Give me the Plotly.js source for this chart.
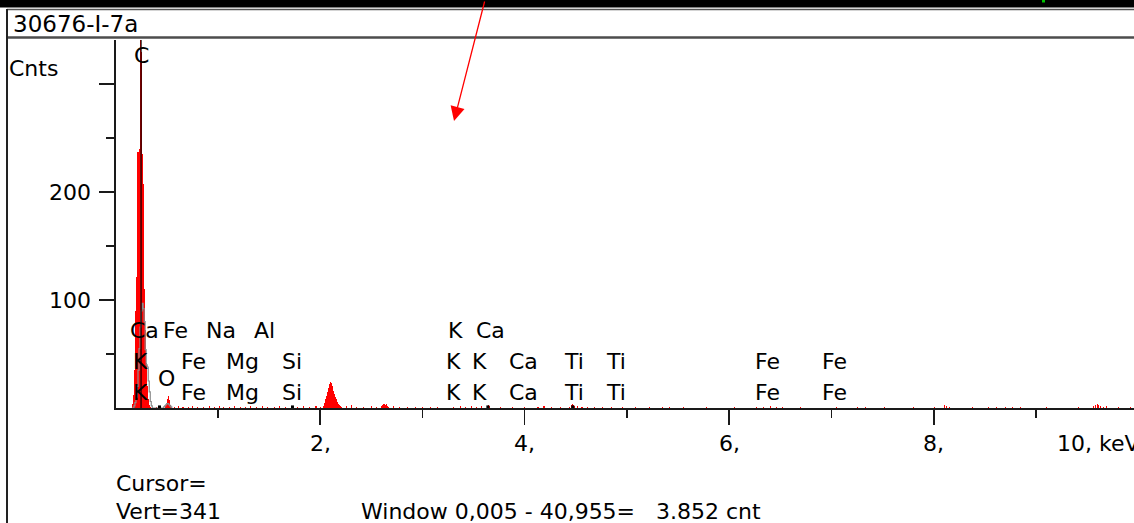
<!DOCTYPE html>
<html><head><meta charset="utf-8">
<script src="https://cdn.plot.ly/plotly-3.0.1.min.js"></script>
<style>html,body{margin:0;padding:0;background:#fff;overflow:hidden}#chart{width:1134px;height:523px}</style>
</head><body><div id="chart"></div>
<script>
// ---- data ----
const sampleName = "30676-I-7a";
const yAxisName = "Cnts";
// red spectrum (10 eV channels, only non-empty channels), energy in keV
const spectrumEnergy = [
  0.17,0.18,0.19,0.20,0.21,0.22,0.23,0.24,0.25,0.26,0.27,0.28,0.29,0.30,0.31,0.32,0.33,0.34,
  0.40,0.44,0.49,0.50,0.51,0.52,0.53,0.54,0.55,
  0.58,0.62,0.66,0.71,0.75,0.80,0.86,0.92,0.97,1.02,1.06,1.11,1.16,1.22,1.27,1.32,1.38,1.44,1.49,1.55,1.60,1.66,1.78,1.84,1.90,1.96,2.00,
  2.03,2.04,2.05,2.06,2.07,2.08,2.09,2.10,2.11,2.12,2.13,2.14,2.15,2.16,2.17,2.18,2.19,2.20,2.21,
  2.26,2.31,2.36,2.42,2.50,2.55,2.60,2.61,2.62,2.63,2.64,2.65,2.66,2.67,2.72,2.78,2.85,2.93,3.00,3.08,3.15,
  3.30,3.37,3.42,3.48,3.53,3.58,3.65,3.66,3.76,3.88,4.00,4.13,4.18,4.19,4.26,4.35,4.44,4.46,4.47,4.48,4.49,4.52,4.56,4.61,4.68,4.76,4.85,4.96,
  5.08,5.22,5.35,5.42,5.55,5.78,6.05,6.27,6.33,6.40,6.46,6.52,6.70,7.05,7.25,7.33,7.52,7.80,
  8.01,8.10,8.12,8.15,8.38,8.53,8.61,8.70,8.77,8.85,9.10,9.41,9.56,9.58,9.60,9.61,9.63,9.66,9.69,9.80,9.92
];
const spectrumCounts = [
  4,12,35,90,121,237,240,341,330,235,208,110,72,42,20,8,3,1,
  1,1,2,4,8,11,7,3,1,
  1,2,1,1,2,1,1,2,1,2,1,1,2,1,1,2,1,2,1,1,2,1,1,2,1,2,1,
  2,5,8,11,15,19,22,24,23,20,16,13,10,8,6,4,3,2,1,
  2,3,1,1,2,1,2,3,4,4,3,4,2,1,2,1,1,1,1,1,1,
  1,2,1,2,1,2,3,2,1,1,1,1,2,2,1,1,1,3,4,3,2,2,1,1,1,1,1,1,
  1,1,1,1,1,1,1,1,1,2,1,1,1,1,1,1,1,1,
  1,3,2,1,1,1,1,1,1,1,1,1,2,3,4,3,2,1,2,1,1
];
// grey comparison spectrum (outline)
const refEnergy = [0.16,0.18,0.19,0.20,0.21,0.22,0.23,0.24,0.25,0.26,0.27,0.28,0.29,0.30,0.31,0.32,0.33,0.34,0.35,0.36,
  0.46,0.47,0.48,0.49,0.50,0.51,0.52,0.53,0.54,0.55];
const refCounts = [0,2,5,10,20,35,55,75,90,97,92,80,54,40,38,25,15,6,2,0,
  0,1,2,3,4,4,3,2,1,0];
// element line markers
const labelNames  = ["C","Ca","Fe","Na","Al","K","Ca",
  "K","Fe","Mg","Si","K","K","Ca","Ti","Ti","Fe","Fe",
  "K","O","Fe","Mg","Si","K","K","Ca","Ti","Ti","Fe","Fe"];
const labelEnergy = [0.25,0.28,0.587,1.031,1.461,3.324,3.664,
  0.245,0.761,1.237,1.725,3.304,3.563,3.99,4.479,4.897,6.373,7.033,
  0.245,0.503,0.761,1.237,1.725,3.304,3.563,3.99,4.479,4.897,6.373,7.033];
const labelRow = ["top","r1","r1","r1","r1","r1","r1",
  "r2","r2","r2","r2","r2","r2","r2","r2","r2","r2","r2",
  "r3","o","r3","r3","r3","r3","r3","r3","r3","r3","r3","r3"];
const markEnergy = [0.43,1.73,3.64,4.47];
const cursorEnergy = 0.25;
const xTickVals = [2,4,6,8];
const xTickText = ["2,","4,","6,","8,"];
const xMinorVals = [1,3,5,7,9];
const lastTickText = "10, keV";
const yTickVals = [100,200,300];
const yTickText = ["100","200",""];
const yMinorVals = [50,150,250];
const cursorText = "Cursor=";
const vertText = "Vert=341";
const windowText = "Window 0,005 - 40,955=\u00a0\u00a0\u00a03.852 cnt";

// ---- layout helpers ----
const W = 1134, H = 523, L = 116, T = 40, B = 115;
const PW = W - L, PH = H - T - B;
const px = x => (x - L) / PW;
const py = y => (H - B - y) / PH;
const FONT = "DejaVu Sans";
const rowY = {top: 327, r1: 72, r2: 43.5, r3: 14, o: 27};
const X_LABEL_Y = 443;

const traces = [
  {type: "bar", x: spectrumEnergy, y: spectrumCounts, width: 0.0102,
   marker: {color: "#ff0000", line: {width: 0}}, hoverinfo: "skip"},
  {type: "scatter", mode: "lines", x: refEnergy, y: refCounts,
   line: {color: "#8c8c8c", width: 1.2, shape: "hv"}, hoverinfo: "skip"},
  {type: "scatter", mode: "markers", x: markEnergy, y: markEnergy.map(() => 1),
   marker: {symbol: "square", size: 3, color: "#000"}, hoverinfo: "skip"}
];

const annotations = labelNames.map((t, i) => ({
  text: t, x: labelEnergy[i], xref: "x", y: rowY[labelRow[i]], yref: "y",
  showarrow: false, xanchor: "center", yanchor: "middle",
  font: {family: FONT, size: 22, color: "#000"}
}));
// x tick labels placed on the x scale
xTickVals.forEach((v, i) => annotations.push({
  text: xTickText[i], x: v, xref: "x", y: py(X_LABEL_Y), yref: "paper",
  showarrow: false, xanchor: "center", yanchor: "middle",
  font: {family: FONT, size: 22, color: "#000"}
}));
function textAt(t, x, y, size, anchor) {
  return {text: t, x: px(x), y: py(y), xref: "paper", yref: "paper", showarrow: false,
    xanchor: anchor || "left", yanchor: "middle", font: {family: FONT, size: size || 22, color: "#000"}};
}
annotations.push(textAt(sampleName, 11, 24, 23));
annotations.push(textAt(yAxisName, 7, 69));
annotations.push(textAt(lastTickText, 1055, X_LABEL_Y));
annotations.push(textAt(cursorText, 114, 483));
annotations.push(textAt(vertText, 114, 511));
annotations.push(textAt(windowText, 359, 511));
annotations.push({text: "", x: px(454), y: py(121), xref: "paper", yref: "paper",
  showarrow: true, ax: 31, ay: -121, arrowcolor: "#ff0000", arrowwidth: 1.3, arrowhead: 2, arrowsize: 2.2});

const shapes = [
  {type: "rect", xref: "paper", yref: "paper", x0: px(0), x1: px(W), y0: py(0), y1: py(7.5),
   fillcolor: "#000", line: {width: 0}, layer: "above"},
  {type: "line", xref: "paper", yref: "paper", x0: px(7), x1: px(W), y0: py(9.5), y1: py(9.5),
   line: {color: "#555", width: 1.5}},
  {type: "line", xref: "paper", yref: "paper", x0: px(7), x1: px(W), y0: py(37.5), y1: py(37.5),
   line: {color: "#4d4d4d", width: 2.5}},
  {type: "line", xref: "paper", yref: "paper", x0: px(7), x1: px(7), y0: py(9), y1: py(H),
   line: {color: "#222", width: 2}},
  {type: "rect", xref: "paper", yref: "paper", x0: px(1042), x1: px(1045), y0: py(0), y1: py(2.5),
   fillcolor: "#00c000", line: {width: 0}, layer: "above"},
  {type: "line", xref: "x", yref: "paper", x0: cursorEnergy, x1: cursorEnergy, y0: 0, y1: 1,
   line: {color: "#000", width: 1.2}}
];

const axisCommon = {showgrid: false, zeroline: false, showline: true, linecolor: "#1a1a1a", linewidth: 1.6,
  ticks: "outside", ticklen: 15, tickwidth: 1.6, tickcolor: "#1a1a1a",
  tickfont: {family: FONT, size: 22, color: "#000"}, fixedrange: true};

const layout = {
  width: W, height: H, autosize: false,
  margin: {l: L, r: 0, t: T, b: B, pad: 0},
  paper_bgcolor: "#fff", plot_bgcolor: "#fff",
  showlegend: false, bargap: 0,
  font: {family: FONT, size: 22, color: "#000"},
  xaxis: Object.assign({}, axisCommon, {range: [0.005, 9.956], tickmode: "array",
    tickvals: xTickVals, showticklabels: false,
    minor: {tickmode: "array", tickvals: xMinorVals, ticks: "outside", ticklen: 8, tickwidth: 1.6, tickcolor: "#1a1a1a"}}),
  yaxis: Object.assign({}, axisCommon, {range: [0, 341], tickmode: "array",
    tickvals: yTickVals, ticktext: yTickText, ticklabelstandoff: 4,
    minor: {tickmode: "array", tickvals: yMinorVals, ticks: "outside", ticklen: 8, tickwidth: 1.6, tickcolor: "#1a1a1a"}}),
  shapes: shapes,
  annotations: annotations
};

Plotly.newPlot("chart", traces, layout, {staticPlot: true, displayModeBar: false});
</script></body></html>
